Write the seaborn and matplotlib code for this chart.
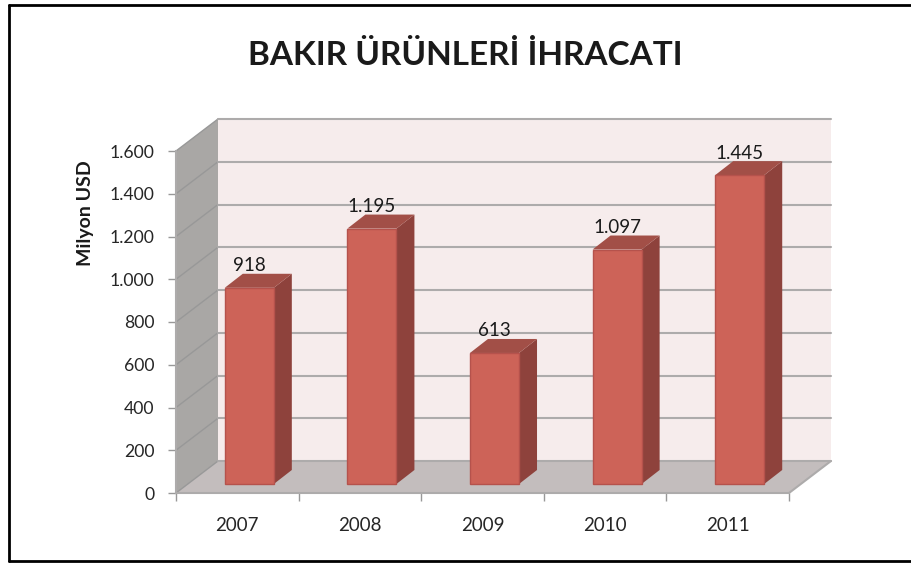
## 3D looking bar chart of copper product exports
import pandas as pd
import seaborn as sns
from matplotlib import pyplot as plt
from matplotlib.lines import Line2D
from matplotlib.patches import Polygon

years = ['2007', '2008', '2009', '2010', '2011']
exports = [918, 1195, 613, 1097, 1445]
value_labels = ['918', '1.195', '613', '1.097', '1.445']
y_ticks = [0, 200, 400, 600, 800, 1000, 1200, 1400, 1600]
y_tick_labels = ['0', '200', '400', '600', '800', '1.000', '1.200', '1.400', '1.600']
title = 'BAKIR ÜRÜNLERİ İHRACATI'
y_title = 'Milyon USD'

sns.set_style('white')
plt.rcParams['font.family'] = ['Lato', 'DejaVu Sans']
plt.rcParams['text.color'] = '#1a1a1a'

W, H = 912, 563
fig = plt.figure(figsize=(W / 100, H / 100), dpi=100, facecolor='white')
# front plane of the box, in pixels of the picture
left, right, top, bottom = 176, 789, 151, 493
ax = fig.add_axes([left / W, 1 - bottom / H, (right - left) / W, (bottom - top) / H])

data = pd.DataFrame({'year': years, 'export': exports})
sns.barplot(data=data, x='year', y='export', color='#CD6358', width=0.40, saturation=1, ax=ax, zorder=5)
ax.set_xlim(-0.5, 4.5)
ax.set_ylim(0, 1600)
ax.patch.set_alpha(0)

# pixels to data units
ux = 5 / (right - left)
uy = 1600 / (bottom - top)
wall_dx, wall_dy = 42 * ux, 32 * uy
bar_dx, bar_dy = 18 * ux, 14 * uy
shift_x, shift_y = 12 * ux, 9 * uy


def face(points, color, z, edge='none', lw=0):
    ax.add_patch(Polygon(points, closed=True, facecolor=color, edgecolor=edge, linewidth=lw, zorder=z, clip_on=False))


x0, x1 = -0.5, 4.5
ymax = 1600
# back wall, left wall, floor
face([(x0 + wall_dx, wall_dy), (x1 + wall_dx, wall_dy), (x1 + wall_dx, ymax + wall_dy), (x0 + wall_dx, ymax + wall_dy)], '#F6ECEC', 0.5)
face([(x0, 0), (x0 + wall_dx, wall_dy), (x0 + wall_dx, ymax + wall_dy), (x0, ymax)], '#A9A7A5', 0.6)
face([(x0, 0), (x1, 0), (x1 + wall_dx, wall_dy), (x0 + wall_dx, wall_dy)], '#C3BDBD', 0.6)

for v in y_ticks:
    ax.plot([x0, x0 + wall_dx], [v, v + wall_dy], color='#989898', lw=1, zorder=1, clip_on=False)
    ax.plot([x0 + wall_dx, x1 + wall_dx], [v + wall_dy, v + wall_dy], color='#ADABAB', lw=1.5, zorder=1, clip_on=False)
ax.plot([x1, x1 + wall_dx], [0, wall_dy], color='#ADABAB', lw=1.5, zorder=1, clip_on=False)

# bars: move off the front plane and add side and top faces
for bar, label in zip(ax.patches[:len(years)], value_labels):
    bar.set_x(bar.get_x() + shift_x)
    bar.set_y(shift_y)
    bar.set_edgecolor('#B5524C')
    bar.set_linewidth(1)
    xa = bar.get_x()
    xb = xa + bar.get_width()
    ya = bar.get_y()
    yb = ya + bar.get_height()
    face([(xb, ya), (xb + bar_dx, ya + bar_dy), (xb + bar_dx, yb + bar_dy), (xb, yb)], '#8E423C', 4)
    face([(xa, yb), (xb, yb), (xb + bar_dx, yb + bar_dy), (xa + bar_dx, yb + bar_dy)], '#A24F47', 4)
    ax.text((xa + xb) / 2, yb + 22 * uy, label, ha='center', va='center', fontsize=13.5, zorder=6, clip_on=False)

sns.despine(ax=ax, top=True, right=True)
for side in ['left', 'bottom']:
    ax.spines[side].set_color('#ADABAB')
    ax.spines[side].set_linewidth(1.5)

ax.set_yticks(y_ticks, y_tick_labels)
ax.set_xticks(range(len(years)), years)
ax.set_xticks([i - 0.5 for i in range(len(years) + 1)], minor=True)
ax.tick_params(axis='y', left=True, length=5.5, width=1, color='#989898', labelsize=12.7, pad=10)
ax.tick_params(axis='x', which='major', bottom=False, labelsize=13.5, pad=14)
ax.tick_params(axis='x', which='minor', bottom=True, length=5.5, width=1, color='#989898')
ax.set_xlabel('')
ax.set_ylabel('')

fig.text(86 / W, 1 - 213 / H, y_title, rotation=90, ha='center', va='center', fontsize=14, fontweight='bold')
fig.text(465 / W, 1 - 55 / H, title, ha='center', va='center', fontsize=24, fontweight='bold')

# outer frame, open on the right
frame_x = 9 / W
frame_top = 1 - 5 / H
frame_bottom = 1 - 561 / H
for xs, ys in [([frame_x, frame_x], [frame_bottom, frame_top]),
               ([frame_x, 1], [frame_top, frame_top]),
               ([frame_x, 1], [frame_bottom, frame_bottom])]:
    fig.add_artist(Line2D(xs, ys, transform=fig.transFigure, color='black', lw=2))

fig.savefig('out.png', dpi=100)
